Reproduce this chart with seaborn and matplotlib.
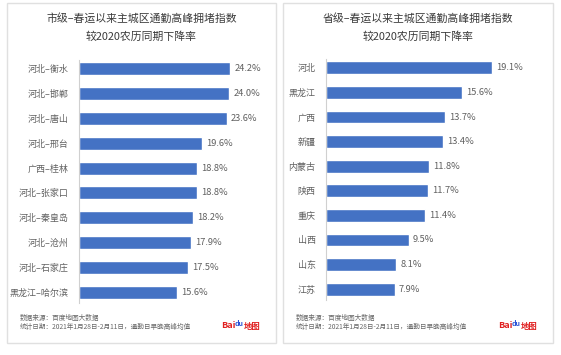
import matplotlib
matplotlib.use("Agg")
import matplotlib.pyplot as plt
import matplotlib.patches as patches
import seaborn as sns
import pandas as pd

sns.set_style("white")
plt.rcParams['font.family'] = ['Noto Sans CJK SC', 'DejaVu Sans']

# city level
city_labels = ["河北–衡水", "河北–邯郸", "河北–唐山", "河北–邢台", "广西–桂林",
               "河北–张家口", "河北–秦皇岛", "河北–沧州", "河北–石家庄", "黑龙江–哈尔滨"]
city_values = [24.2, 24.0, 23.6, 19.6, 18.8, 18.8, 18.2, 17.9, 17.5, 15.6]

# province level
prov_labels = ["河北", "黑龙江", "广西", "新疆", "内蒙古", "陕西", "重庆", "山西", "山东", "江苏"]
prov_values = [19.1, 15.6, 13.7, 13.4, 11.8, 11.7, 11.4, 9.5, 8.1, 7.9]

titles = ["市级–春运以来主城区通勤高峰拥堵指数\n较2020农历同期下降率",
          "省级–春运以来主城区通勤高峰拥堵指数\n较2020农历同期下降率"]
note1 = "数据来源：百度地图大数据"
note2 = "统计日期：2021年1月28日-2月11日，通勤日早晚高峰均值"

BAR = "#4472C4"
TXT = "#606060"
W, H = 561, 355

fig = plt.figure(figsize=(W / 100, H / 100), dpi=100)


def fx(px):
    return px / W


def fy(py):
    return 1 - py / H


panels = [
    dict(labels=city_labels, values=city_values, box=(7, 276), ax_x=79, xmax=28.8, top=60, bot=303),
    dict(labels=prov_labels, values=prov_values, box=(283, 553), ax_x=326, xmax=20.7, top=59, bot=300),
]

for p, title in zip(panels, titles):
    x0, x1 = p["box"]
    fig.patches.append(patches.Rectangle((fx(x0), fy(343)), fx(x1 - x0), (343 - 3) / H,
                                         transform=fig.transFigure, fill=False,
                                         edgecolor="#e0e0e0", linewidth=1))
    ax = fig.add_axes([fx(p["ax_x"]), fy(p["bot"]), fx(180), (p["bot"] - p["top"]) / H])
    df = pd.DataFrame({"label": p["labels"], "value": p["values"]})
    sns.barplot(data=df, x="value", y="label", color=BAR, saturation=1,
                width=0.52, orient="h", ax=ax)
    ax.set_xlim(0, p["xmax"])
    ax.set_ylim(9.44, -0.36)
    for i, v in enumerate(p["values"]):
        ax.annotate(f"{v:.1f}%", (v, i), xytext=(3, 0), textcoords="offset points",
                    va="center", ha="left", fontsize=6.7, color=TXT)
    ax.set_xlabel("")
    ax.set_ylabel("")
    ax.set_xticks([])
    ax.tick_params(axis="y", length=0, pad=7.5, labelsize=6.5, labelcolor=TXT)
    for s in ["top", "right", "bottom"]:
        ax.spines[s].set_visible(False)
    ax.spines["left"].set_color("#d0d0d0")
    ax.spines["left"].set_linewidth(0.8)

    cx = (x0 + x1) / 2
    t1, t2 = title.split("\n")
    fig.text(fx(cx), fy(18), t1, ha="center", va="center", fontsize=7.8, color="#3a3a3a")
    fig.text(fx(cx), fy(37), t2, ha="center", va="center", fontsize=7.8, color="#3a3a3a")

    fig.text(fx(x0 + 13), fy(318), note1, ha="left", va="center", fontsize=4.8, color="#666666")
    fig.text(fx(x0 + 13), fy(327), note2, ha="left", va="center", fontsize=4.8, color="#666666")

    # baidu logo
    lx = x1 - 55
    fig.text(fx(lx), fy(326), "Bai", ha="left", va="center", fontsize=6.5,
             color="#e02020", fontweight="bold")
    fig.text(fx(lx + 14), fy(324), "du", ha="left", va="center", fontsize=5,
             color="#2b54d6", fontweight="bold")
    fig.text(fx(lx + 23), fy(326), "地图", ha="left", va="center", fontsize=6,
             color="#e02020", fontweight="bold")

fig.savefig("out.png", dpi=100, facecolor="white")
